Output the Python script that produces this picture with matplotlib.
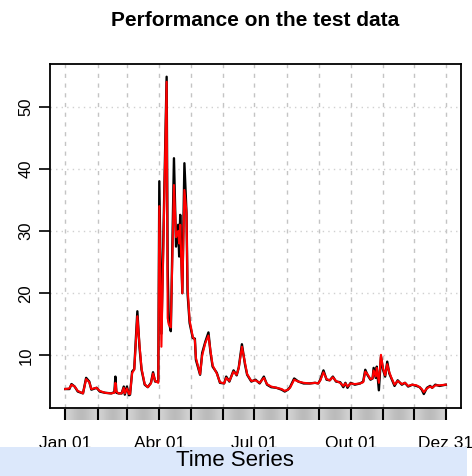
import numpy as np
import matplotlib
matplotlib.use("Agg")
import matplotlib.pyplot as plt
from matplotlib.patches import Rectangle
from matplotlib.transforms import blended_transform_factory

plt.rcParams['font.family'] = ['Liberation Sans', 'DejaVu Sans']

# day of year (0 = Jan 01), observed and predicted values
days = [0, 4, 6, 9, 12, 17, 20, 23, 25, 30, 33, 38, 44, 47, 48, 49, 51, 54, 56, 57,
        59, 61, 62, 64, 66, 69, 71, 73, 76, 79, 82, 84, 86, 89, 90, 92, 97, 98, 99, 101,
        104, 106, 108, 109, 110, 112, 114, 116, 117, 119, 122, 124, 125, 129, 131, 134, 137, 139, 141, 145,
        148, 152, 154, 157, 161, 164, 166, 169, 172, 174, 178, 182, 186, 190, 193, 197, 202, 207, 210, 213,
        215, 219, 223, 228, 234, 239, 242, 244, 247, 250, 253, 256, 259, 263, 266, 268, 270, 273, 277, 282,
        285, 287, 289, 292, 294, 295, 297, 298, 300, 302, 304, 306, 308, 310, 312, 315, 318, 322, 325, 328,
        332, 336, 339, 341, 343, 346, 349, 351, 354, 358, 364]

observed = [4.6, 4.6, 5.4, 5.0, 4.2, 3.9, 6.4, 5.8, 4.5, 4.8, 4.2, 4.0, 3.9, 4.1, 6.6, 4.0, 3.9, 3.9, 5.0, 3.7,
            5.0, 3.6, 3.7, 7.4, 7.8, 17.1, 11.4, 7.7, 5.3, 4.9, 5.6, 7.3, 5.8, 5.8, 38.0, 13.5, 54.8, 24.0, 15.5, 13.9,
            41.7, 27.5, 31.0, 25.9, 32.6, 20.0, 40.9, 32.9, 20.0, 15.2, 12.8, 12.7, 9.3, 6.9, 10.4, 12.2, 13.7, 10.4, 8.2, 7.2,
            5.6, 5.5, 6.6, 5.8, 7.6, 6.8, 8.1, 11.8, 8.5, 6.9, 5.8, 6.1, 5.5, 6.6, 5.3, 4.9, 4.8, 4.5, 4.2, 4.5,
            4.9, 6.3, 5.8, 5.5, 5.5, 5.6, 5.5, 6.1, 7.6, 6.1, 6.0, 6.6, 5.8, 5.7, 4.9, 5.6, 4.8, 5.6, 5.3, 5.5,
            5.8, 7.7, 6.9, 6.1, 6.3, 8.0, 6.4, 8.2, 4.4, 9.8, 7.7, 6.6, 9.0, 7.1, 6.3, 5.1, 6.0, 5.3, 5.6, 5.0,
            5.3, 5.1, 4.9, 4.5, 3.8, 4.8, 5.1, 4.8, 5.3, 5.1, 5.3]

predicted = [4.6, 4.7, 5.3, 5.0, 4.3, 3.9, 6.2, 5.7, 4.6, 4.8, 4.3, 4.0, 3.9, 4.0, 5.6, 4.2, 3.9, 3.9, 4.8, 3.9,
             4.7, 3.8, 3.8, 7.2, 7.7, 16.3, 11.8, 7.9, 5.4, 4.9, 5.5, 7.1, 5.9, 5.6, 34.0, 11.4, 54.0, 16.0, 15.0, 14.5,
             37.4, 29.0, 30.0, 28.0, 31.0, 20.0, 36.6, 33.0, 21.0, 15.6, 13.0, 12.5, 9.6, 7.0, 10.0, 12.0, 13.2, 10.7, 8.4, 7.1,
             5.7, 5.5, 6.4, 5.9, 7.4, 6.9, 8.0, 11.4, 8.8, 7.0, 5.9, 6.0, 5.6, 6.4, 5.4, 5.0, 4.8, 4.6, 4.3, 4.5,
             4.8, 6.1, 5.8, 5.6, 5.5, 5.6, 5.5, 6.0, 7.3, 6.2, 6.0, 6.5, 5.9, 5.6, 5.1, 5.5, 5.0, 5.5, 5.4, 5.5,
             5.7, 7.4, 7.0, 6.2, 6.3, 7.6, 6.6, 8.0, 5.6, 10.1, 7.9, 6.8, 8.6, 7.3, 6.4, 5.3, 5.9, 5.4, 5.6, 5.1,
             5.3, 5.2, 4.9, 4.6, 4.1, 4.7, 5.0, 4.8, 5.2, 5.2, 5.3]

month_starts = [0, 31, 59, 90, 120, 151, 181, 212, 243, 273, 304, 334, 364]
label_days = [0, 90, 181, 273, 364]
label_text = ["Jan 01", "Abr 01", "Jul 01", "Out 01", "Dez 31"]
y_ticks = [10, 20, 30, 40, 50]

W, H = 472, 476
fig = plt.figure(figsize=(W / 100, H / 100), dpi=100)

def px_axes(x0, y0, x1, y1):
    # axes from pixel box (top-left origin)
    return fig.add_axes([x0 / W, 1 - y1 / H, (x1 - x0) / W, (y1 - y0) / H])

ax = px_axes(50, 64, 461, 408)

# R style ranges: 4% padding on each side
xspan = days[-1] - days[0]
xlim = (days[0] - 0.04 * xspan, days[-1] + 0.04 * xspan)
allv = observed + predicted
ymin, ymax = min(allv), max(allv)
yspan = ymax - ymin
ax.set_xlim(xlim)
ax.set_ylim(ymin - 0.04 * yspan, ymax + 0.04 * yspan)

for d in month_starts:
    ax.axvline(d, color='#c4c4c4', lw=1.0, linestyle=(0, (3, 4)), zorder=1)
for v in y_ticks:
    ax.axhline(v, color='#d0d0d0', lw=1.0, linestyle=(0, (1, 3)), zorder=1)

ax.plot(days, observed, color='black', lw=1.7, zorder=3)
ax.plot(days, predicted, color='red', lw=1.5, zorder=4)

ax.set_xticks([])
ax.set_yticks(y_ticks)
ax.set_yticklabels([str(v) for v in y_ticks], rotation=90, va='center', fontsize=12)
ax.tick_params(axis='y', direction='out', length=8, width=1.2, pad=4)
for s in ax.spines.values():
    s.set_linewidth(1.3)

# gray date band below the plot
band = px_axes(50, 409, 461, 420)
band.axis('off')
grad = np.array([[0.82, 0.76, 0.72, 0.76, 0.82]])
for a, b in zip(month_starts[:-1], month_starts[1:]):
    band.imshow(grad, cmap='gray', vmin=0, vmax=1, extent=(a, b, 0, 1),
                aspect='auto', interpolation='bicubic')
for d in month_starts:
    band.plot([d, d], [0, 1], color='black', lw=1.5)
band.set_xlim(xlim)
band.set_ylim(0, 1)

trans = blended_transform_factory(ax.transData, fig.transFigure)
for d, t in zip(label_days, label_text):
    fig.text(d, 1 - 448 / H, t, transform=trans, ha='center', va='baseline', fontsize=12.5)

fig.text(255.5 / W, 1 - 21 / H, "Performance on the test data",
         ha='center', va='center', fontsize=15, fontweight='bold')

# header strip at the bottom
fig.add_artist(Rectangle((0, 0), 467 / W, 29 / H, transform=fig.transFigure,
                         facecolor='#dce8fb', edgecolor='none', zorder=10))
fig.text(235 / W, 1 - 461 / H, "Time Series", ha='center', va='center',
         fontsize=16, zorder=11)

fig.savefig("out.png", dpi=100)
